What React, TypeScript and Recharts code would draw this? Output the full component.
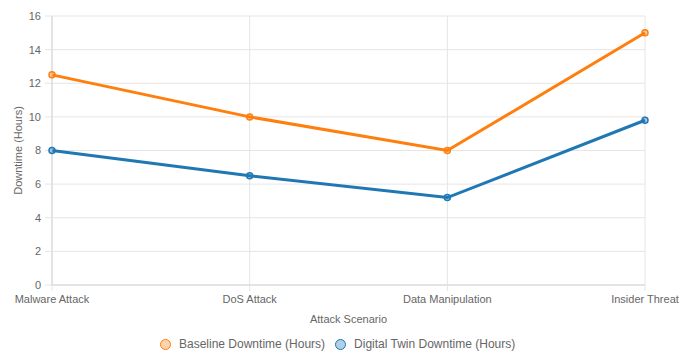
import { LineChart, Line, XAxis, YAxis, CartesianGrid } from "recharts";

// Values
const scenarios = ["Malware Attack", "DoS Attack", "Data Manipulation", "Insider Threat"];
const baselineDowntime = [12.5, 10, 8, 15];
const digitalTwinDowntime = [8, 6.5, 5.2, 9.8];
const yTicks = [0, 2, 4, 6, 8, 10, 12, 14, 16];

const SERIES = [
  { key: "baseline", name: "Baseline Downtime (Hours)", color: "#ff7f0e", fill: "rgba(255,127,14,0.35)" },
  { key: "twin", name: "Digital Twin Downtime (Hours)", color: "#1f77b4", fill: "rgba(31,119,180,0.35)" },
];

const data = scenarios.map((s, i) => ({
  scenario: s,
  baseline: baselineDowntime[i],
  twin: digitalTwinDowntime[i],
}));

const FONT = "'Liberation Sans', Arial, Helvetica, sans-serif";
const TEXT = "#666";
const GRID = "#e5e5e5";

export default function App() {
  return (
    <div style={{ position: "absolute", left: 0, top: 0, width: 689, height: 353, background: "#fff", fontFamily: FONT }}>
      <LineChart
        width={689}
        height={353}
        data={data}
        margin={{ top: 16, right: 44, left: 0, bottom: 28 }}
        style={{ fontFamily: FONT }}
      >
        <CartesianGrid stroke={GRID} strokeWidth={1} />
        <XAxis
          dataKey="scenario"
          height={40}
          tick={{ fontSize: 11, fill: TEXT }}
          tickSize={6}
          tickMargin={4}
          tickLine={{ stroke: GRID }}
          axisLine={{ stroke: "#d4d4d4" }}
          interval={0}
          label={{ value: "Attack Scenario", position: "insideBottom", offset: 2, fontSize: 11, fill: TEXT }}
        />
        <YAxis
          width={52}
          domain={[0, 16]}
          ticks={yTicks}
          tick={{ fontSize: 11, fill: TEXT }}
          tickSize={7}
          tickMargin={4}
          tickLine={{ stroke: GRID }}
          axisLine={{ stroke: "#d4d4d4" }}
          label={{
            value: "Downtime (Hours)",
            angle: -90,
            position: "insideLeft",
            offset: 18,
            fontSize: 11,
            fill: TEXT,
            style: { textAnchor: "middle" },
          }}
        />
        {SERIES.map((s) => (
          <Line
            key={s.key}
            type="linear"
            dataKey={s.key}
            name={s.name}
            stroke={s.color}
            strokeWidth={3}
            dot={{ r: 3, stroke: s.color, strokeWidth: 1.5, fill: s.fill }}
            activeDot={false}
            isAnimationActive={false}
          />
        ))}
      </LineChart>
      <div
        style={{
          position: "absolute",
          left: 160,
          top: 337,
          display: "flex",
          alignItems: "center",
          fontSize: 12,
          color: TEXT,
          whiteSpace: "nowrap",
        }}
      >
        {SERIES.map((s) => (
          <div key={s.key} style={{ display: "flex", alignItems: "center", marginRight: 10 }}>
            <span
              style={{
                display: "inline-block",
                boxSizing: "border-box",
                width: 11,
                height: 11,
                borderRadius: "50%",
                border: `1.5px solid ${s.color}`,
                background: s.fill,
                marginRight: 8,
              }}
            />
            <span>{s.name}</span>
          </div>
        ))}
      </div>
    </div>
  );
}
